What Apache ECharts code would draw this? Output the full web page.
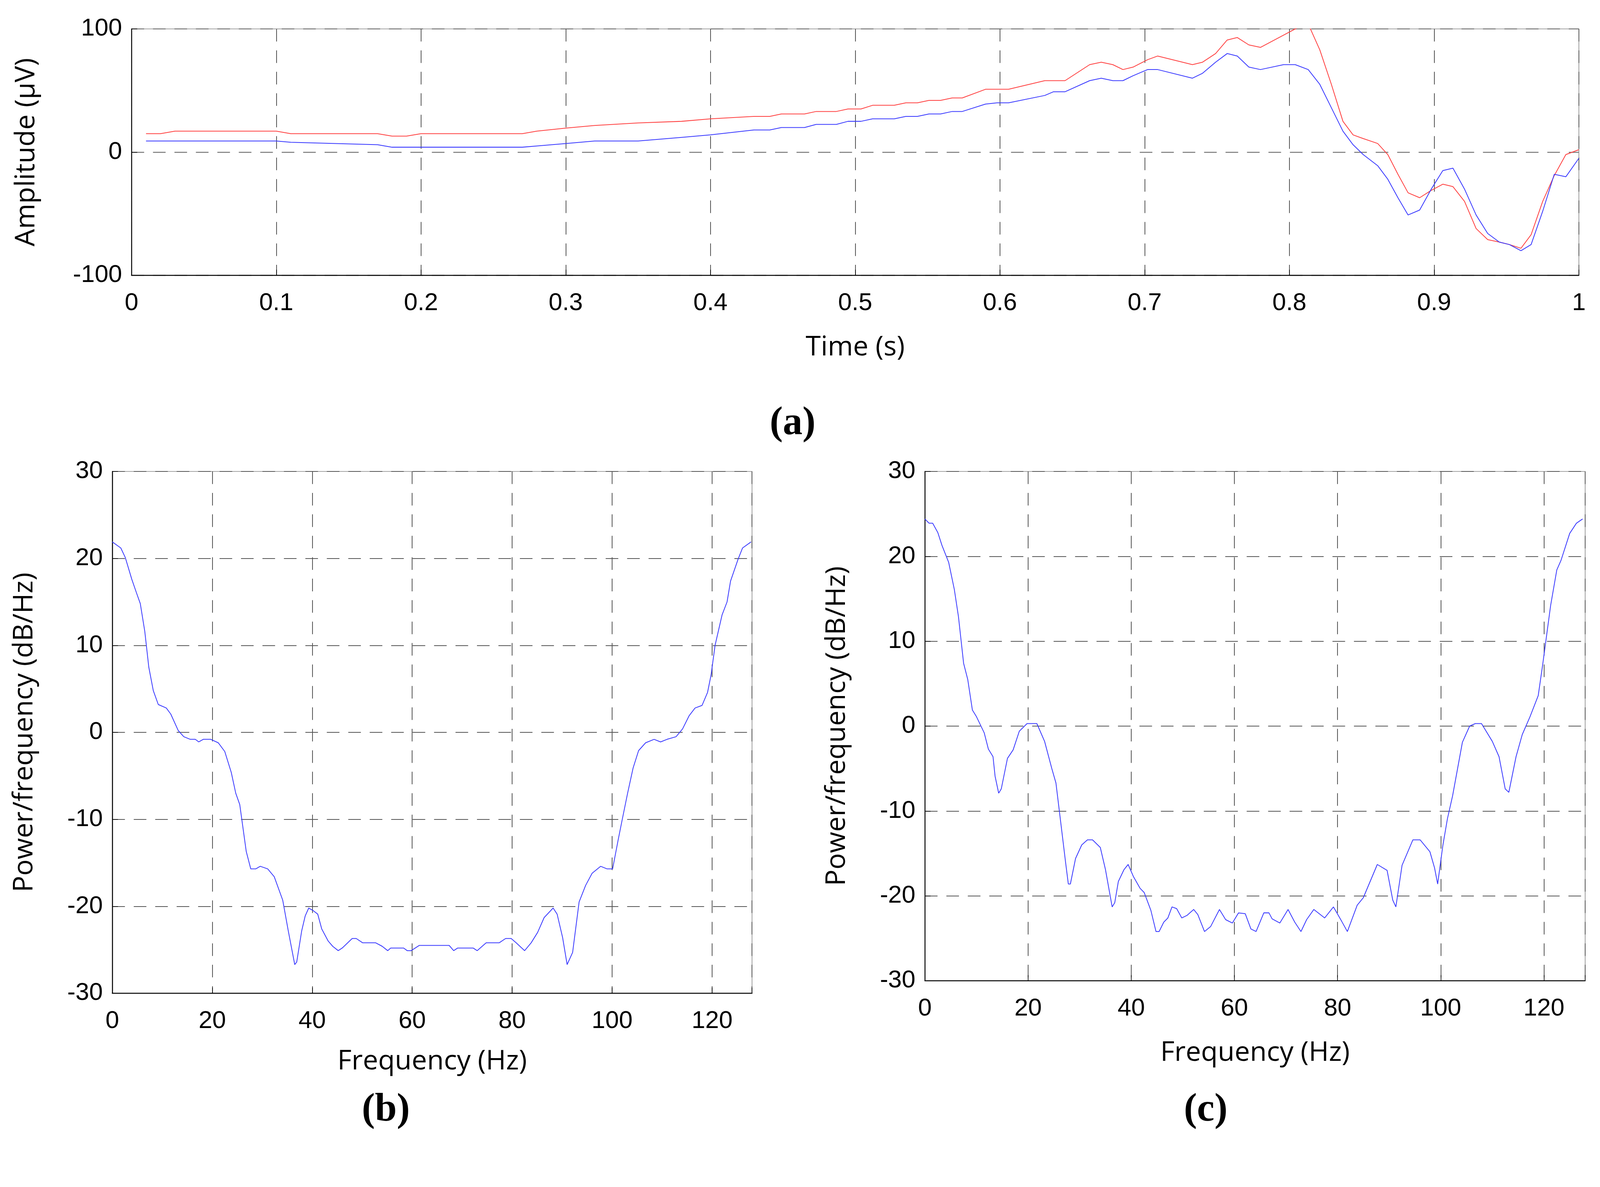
<!DOCTYPE html>
<html>
<head>
<meta charset="utf-8">
<script src="https://cdn.jsdelivr.net/npm/echarts@6/dist/echarts.min.js"></script>
<style>
  html, body { margin: 0; padding: 0; background: #fff; overflow: hidden; }
  #main { width: 100vw; height: 100vh; }
</style>
</head>
<body>
<div id="main"></div>
<script>
// (a) time signal, two channels
const timeA = [0.01,0.02,0.03,0.10,0.11,0.17,0.18,0.19,0.20,0.27,0.28,0.30,0.32,0.35,0.38,0.40,
  0.43,0.441,0.449,0.465,0.473,0.487,0.495,0.504,0.512,0.527,0.535,0.543,0.551,0.559,0.567,0.574,
  0.590,0.598,0.606,0.631,0.637,0.645,0.662,0.670,0.678,0.685,0.692,0.702,0.709,0.733,0.740,0.749,
  0.757,0.764,0.772,0.780,0.796,0.804,0.813,0.821,0.829,0.837,0.844,0.851,0.861,0.868,0.875,0.882,
  0.890,0.898,0.906,0.913,0.921,0.929,0.937,0.945,0.952,0.960,0.967,0.975,0.983,0.991,1.0];
const redA = [15,15,17,17,15,15,13,13,15,15,17,19.5,21.6,23.7,25,27,
  29,29,31,31,33,33,35,35,38,38,40,40,42,42,44,44,
  51,51,51,58,58,58,71,73,71,67,69,75,78,71,73,80,
  91,93,87,85,95,100,104,83,55,25,14,11,7,-2,-18,-33,
  -37,-31,-26,-28,-40,-62,-71,-73,-75,-78,-67,-40,-19,-2,2];
const blueA = [9,9,9,9,8,6,4,4,4,4,5,7,9,9,12,14,
  18,18,20,20,22.5,22.5,25,25,27,27,29,29,31,31,33,33,
  39,40,40,46,49,49,58,60,58,58,62,67,67,60,64,73,
  80,78,69,67,71,71,67,55,36,17,6,-2,-11,-22,-37,-51,
  -47,-30,-15,-13,-30,-51,-66,-73,-75,-80,-75,-48,-18,-20,-5];

// (b) PSD channel 1
const freqB = [0,1.7,2.6,3.9,4.8,5.6,6.5,7.3,8.2,9.2,10.8,11.7,13.2,14.3,15.6,16.6,17.3,18.2,19.7,21.2,
  22.5,23.8,24.7,25.5,26.8,27.7,28.7,29.6,31.1,32.4,34.1,35.2,36.5,36.9,37.9,38.6,39.3,40.2,41.1,41.9,
  43.2,44.1,45.2,46.0,48.0,48.8,50.1,52.7,54.0,55.1,55.7,58.3,59.0,59.8,61.4,63.1,
  65.7,67.4,68.3,69.1,72.2,73.0,74.8,77.4,78.7,79.8,80.8,82.5,83.8,85.1,86.4,88.2,89.0,90.1,91.0,92.1,
  93.4,94.7,96.0,97.7,99.0,100.1,101.2,102.0,103.1,104.2,105.3,106.7,108.4,109.7,111.0,112.8,114.1,
  115.4,116.6,118.0,119.1,119.8,120.6,122.0,123.0,123.7,125.2,126.1,127.8];
const psdB = [21.9,21.2,20.1,17.6,16.1,14.8,11.6,7.5,4.8,3.2,2.8,2.1,0.2,-0.5,-0.8,-0.8,-1.1,-0.8,-0.8,-1.2,
  -2.2,-4.6,-7,-8.3,-13.7,-15.7,-15.7,-15.4,-15.7,-16.6,-19.3,-22.8,-26.7,-26.4,-22.8,-21.1,-20.2,-20.5,-20.9,-22.6,
  -24.0,-24.6,-25.1,-24.8,-23.7,-23.7,-24.2,-24.2,-24.6,-25.1,-24.8,-24.8,-25.1,-25.1,-24.5,-24.5,
  -24.5,-24.5,-25.1,-24.8,-24.8,-25.1,-24.2,-24.2,-23.7,-23.7,-24.2,-25.1,-24.2,-23,-21.3,-20.2,-20.9,-23.6,-26.7,-25.3,
  -19.5,-17.6,-16.2,-15.4,-15.7,-15.7,-12.4,-10.1,-7,-4.1,-2.1,-1.2,-0.8,-1.1,-0.8,-0.5,0.4,
  1.9,2.8,3.1,4.6,6.6,10,13.5,15,17.4,19.9,21.2,21.9];

// (c) PSD channel 2
const freqC = [0,0.8,1.5,2.5,3.3,4.6,5.7,6.5,7.5,8.3,9.2,10,11.5,12.3,13.2,13.6,14.3,14.8,16,17.1,18.3,19.8,21.7,
  23.2,24.6,25.4,26.3,27.3,27.8,28.2,29.2,30.4,31.5,32.5,34,35,36.3,36.8,37.5,38.6,39.4,40.4,41.7,42.5,43.8,
  44.8,45.4,46.3,47.1,47.9,48.8,49.8,50.8,52.1,52.9,54.2,55.4,57.1,58.3,59.6,60.8,62.1,63.2,64.2,65.7,66.7,
  67.3,68.8,70.4,71.7,72.9,74,75.4,77.5,79.2,80.8,81.9,83.8,85,87.7,89.6,90.7,91.3,92.5,94.6,96,97.9,98.8,
  99.4,100.4,101.3,102.3,104.2,105.6,106.7,107.9,110,111.3,112.5,113.2,114.6,115.8,117.3,118.9,119.8,121.3,
  122.5,123.3,125,126.3,127.5];
const psdC = [24.4,23.9,23.9,22.8,21.3,19.3,16.1,12.9,7.4,5.5,1.9,1.1,-0.8,-2.7,-3.6,-5.9,-7.9,-7.4,-3.8,-2.8,-0.6,0.3,0.3,
  -1.8,-5,-6.7,-11.2,-16.2,-18.6,-18.6,-15.6,-14,-13.4,-13.4,-14.3,-16.9,-21.3,-20.8,-18.3,-16.9,-16.3,-17.7,-19.1,-19.6,-21.7,
  -24.2,-24.2,-23.1,-22.6,-21.3,-21.5,-22.6,-22.3,-21.6,-22.2,-24.2,-23.6,-21.6,-22.8,-23.2,-22,-22.1,-23.9,-24.2,-22,-22,
  -22.7,-23.2,-21.6,-23.1,-24.2,-22.8,-21.6,-22.6,-21.3,-23,-24.2,-21.1,-20.2,-16.3,-17,-20.5,-21.3,-16.4,-13.4,-13.4,-14.8,-16.7,
  -18.6,-14.1,-10.9,-8.2,-1.9,0,0.3,0.3,-1.8,-3.6,-7.4,-7.8,-3.6,-1,1.1,3.6,7.4,14.2,
  18.4,19.5,22.7,23.9,24.4];

const pairs = (xs, ys) => xs.map((x, i) => [x, ys[i]]);

const dom = document.getElementById('main');
// layout measured in reference pixels (5072 x 3039), scaled to the real viewport
const sx = dom.clientWidth / 5072;
const sy = dom.clientHeight / 3039;
const px = v => v * sx;
const py = v => v * sy;
const fs = v => v * Math.sqrt(sx * sy);

const chart = echarts.init(dom);
const tickFont = { fontFamily: 'Liberation Sans', fontSize: fs(70), color: '#000' };
const nameFont = { fontFamily: 'Open Sans', fontSize: fs(78), color: '#000' };
const dashGrid = { show: true, lineStyle: { type: [px(40), px(28)], color: '#555', width: px(2.5) } };

function xAx(idx, max, interval, gap, name, fmt) {
  return {
    type: 'value', gridIndex: idx, min: 0, max: max, interval: interval,
    name: name, nameLocation: 'middle', nameGap: py(gap), nameTextStyle: nameFont,
    axisLine: { show: true, onZero: false, lineStyle: { color: '#000', width: px(3) } },
    axisTick: { show: true, inside: true, length: px(18), lineStyle: { color: '#000', width: px(2) } },
    axisLabel: Object.assign({ margin: py(40), formatter: fmt }, tickFont),
    splitLine: dashGrid
  };
}
function yAx(idx, min, max, interval, gap, name, split) {
  return {
    type: 'value', gridIndex: idx, min: min, max: max, interval: interval,
    name: name, nameLocation: 'middle', nameGap: px(gap), nameTextStyle: nameFont,
    axisLine: { show: true, lineStyle: { color: '#000', width: px(3) } },
    axisTick: { show: true, inside: true, length: px(18), lineStyle: { color: '#000', width: px(2) } },
    axisLabel: Object.assign({ margin: px(30) }, tickFont),
    splitLine: split
  };
}
const panelFont = 'bold ' + fs(112) + 'px "Liberation Serif"';

chart.setOption({
  backgroundColor: '#fff',
  animation: false,
  grid: [
    { left: px(417), top: py(74), width: px(4588), height: py(631), show: true, borderColor: '#888', borderWidth: px(2) },
    { left: px(356), top: py(1207), width: px(2028), height: py(1336), show: true, borderColor: '#888', borderWidth: px(2) },
    { left: px(2932), top: py(1207), width: px(2093), height: py(1304), show: true, borderColor: '#888', borderWidth: px(2) }
  ],
  xAxis: [
    xAx(0, 1, 0.1, 150, 'Time (s)', v => String(Math.round(v * 10) / 10)),
    xAx(1, 128, 20, 140, 'Frequency (Hz)', v => (v === 128 ? '' : String(v))),
    xAx(2, 128, 20, 150, 'Frequency (Hz)', v => (v === 128 ? '' : String(v)))
  ],
  yAxis: [
    yAx(0, -100, 100, 100, 290, 'Amplitude (μV)',
      { show: true, lineStyle: { type: [px(40), px(28)], color: '#777', width: px(3) } }),
    yAx(1, -30, 30, 10, 235, 'Power/frequency (dB/Hz)', dashGrid),
    yAx(2, -30, 30, 10, 235, 'Power/frequency (dB/Hz)', dashGrid)
  ],
  graphic: [
    { type: 'text', left: px(2440), top: py(1035), style: { text: '(a)', font: panelFont, fill: '#000' } },
    { type: 'text', left: px(1147), top: py(2793), style: { text: '(b)', font: panelFont, fill: '#000' } },
    { type: 'text', left: px(3753), top: py(2793), style: { text: '(c)', font: panelFont, fill: '#000' } }
  ],
  series: [
    { type: 'line', xAxisIndex: 0, yAxisIndex: 0, data: pairs(timeA, redA), showSymbol: false,
      clip: true, lineStyle: { color: '#ff4040', width: px(2.5) } },
    { type: 'line', xAxisIndex: 0, yAxisIndex: 0, data: pairs(timeA, blueA), showSymbol: false,
      clip: true, lineStyle: { color: '#3838ff', width: px(2.5) } },
    { type: 'line', xAxisIndex: 1, yAxisIndex: 1, data: pairs(freqB, psdB), showSymbol: false,
      lineStyle: { color: '#3838ff', width: px(2.5) } },
    { type: 'line', xAxisIndex: 2, yAxisIndex: 2, data: pairs(freqC, psdC), showSymbol: false,
      lineStyle: { color: '#3838ff', width: px(2.5) } }
  ]
});
window.onresize = function () { chart.resize(); };
</script>
</body>
</html>
